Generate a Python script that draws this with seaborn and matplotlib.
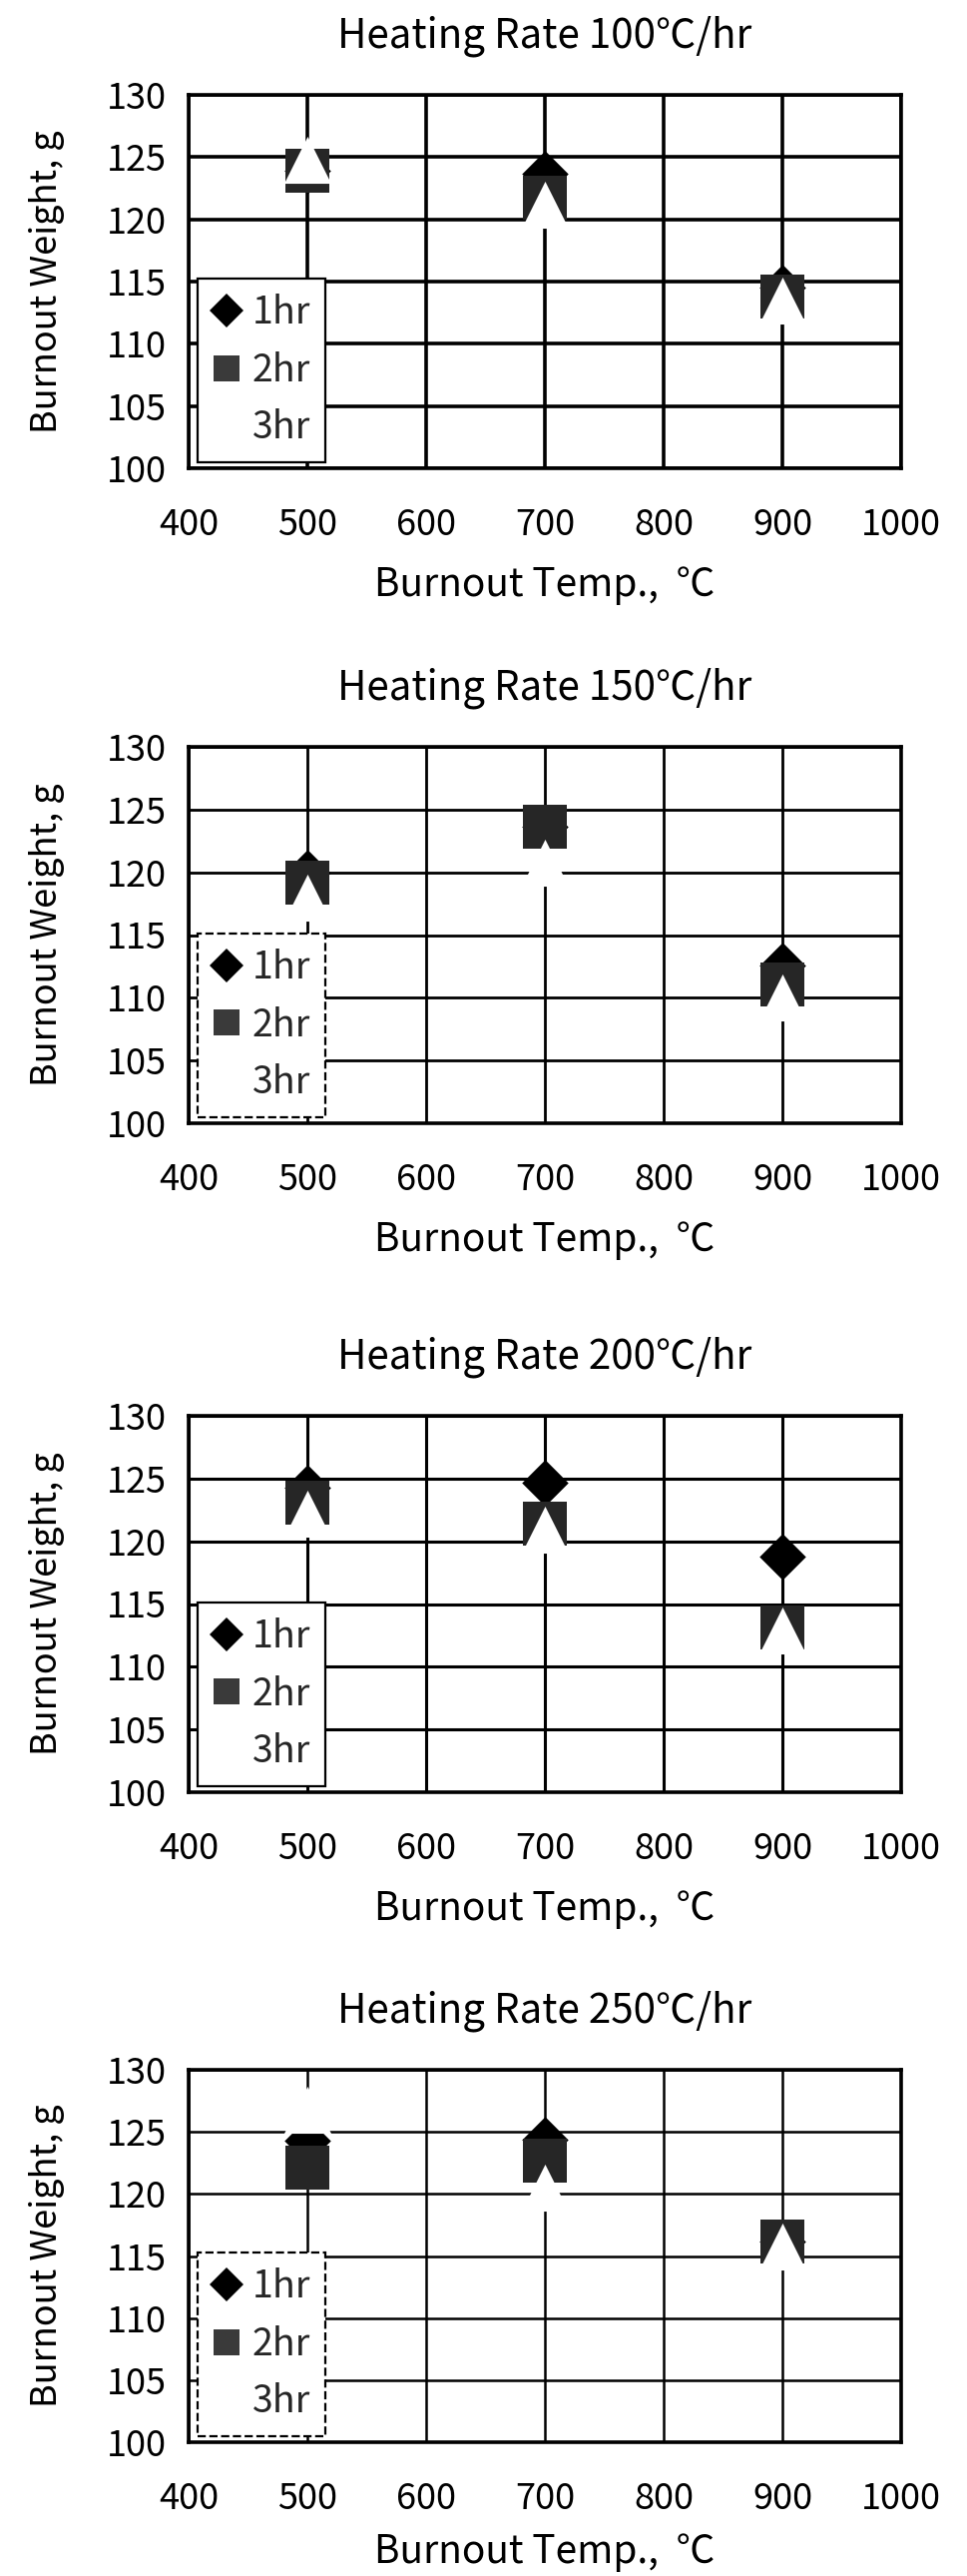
import matplotlib
matplotlib.use("Agg")
import matplotlib.pyplot as plt
from matplotlib.lines import Line2D
import seaborn as sns

sns.set_theme(style="white")
plt.rcParams["font.family"] = ["Noto Sans CJK KR", "DejaVu Sans"]

# Burnout temperatures (°C) and weights (g) for each heating rate
temps = [500, 700, 900]
rates = ["100", "150", "200", "250"]

w_100_1hr = [123.9, 123.7, 114.5]
w_100_2hr = [123.9, 121.7, 113.8]
w_100_3hr = [124.8, 121.2, 113.5]

w_150_1hr = [120.0, 123.6, 112.6]
w_150_2hr = [119.2, 123.6, 111.1]
w_150_3hr = [118.0, 120.8, 110.0]

w_200_1hr = [124.3, 124.7, 118.8]
w_200_2hr = [123.1, 121.4, 113.1]
w_200_3hr = [122.2, 120.9, 112.9]

w_250_1hr = [124.3, 124.4, 116.2]
w_250_2hr = [122.1, 122.7, 116.2]
w_250_3hr = [126.8, 120.5, 115.8]

hold_labels = ["1hr", "2hr", "3hr"]
x_ticks = [400, 500, 600, 700, 800, 900, 1000]
y_ticks = [100, 105, 110, 115, 120, 125, 130]

panels = [
    (w_100_1hr, w_100_2hr, w_100_3hr),
    (w_150_1hr, w_150_2hr, w_150_3hr),
    (w_200_1hr, w_200_2hr, w_200_3hr),
    (w_250_1hr, w_250_2hr, w_250_3hr),
]

marker_styles = [
    dict(marker="D", s=560, color="black"),
    dict(marker="s", s=960, color="#262626"),
    dict(marker="^", s=1150, color="white"),
]
legend_frame_styles = ["-", "--", "-", "--"]
grid_widths = [2.6, 2.0, 2.2, 1.8]
xlabel_pads = [16, 16, 16, 11]

W, H = 969, 2580
fig = plt.figure(figsize=(W / 100, H / 100), dpi=100)

ax_left, ax_width = 189 / W, 714 / W
ax_boxes = [(95, 469), (748, 1125), (1418, 1795), (2073, 2446)]

FS = 26

for i, (rate, series, (top, bot)) in enumerate(zip(rates, panels, ax_boxes)):
    ax = fig.add_axes([ax_left, 1 - bot / H, ax_width, (bot - top) / H])
    ax.set_facecolor("white")
    for vals, style in zip(series, marker_styles):
        sns.scatterplot(x=temps, y=vals, ax=ax, linewidth=0, zorder=3,
                        legend=False, **style)
    ax.set_xlim(400, 1000)
    ax.set_ylim(100, 130)
    ax.set_xticks(x_ticks)
    ax.set_yticks(y_ticks)
    ax.grid(True, color="black", linewidth=grid_widths[i], zorder=1)
    ax.set_axisbelow(True)
    for sp in ax.spines.values():
        sp.set_visible(True)
        sp.set_color("black")
        sp.set_linewidth(2.6)
    ax.tick_params(axis="both", length=0, labelsize=FS, colors="black")
    ax.tick_params(axis="x", pad=28)
    ax.tick_params(axis="y", pad=16)
    ax.set_title(f"Heating Rate {rate}℃/hr", fontsize=29, pad=34, color="black")
    ax.set_xlabel("Burnout Temp.,  ℃", fontsize=28, labelpad=xlabel_pads[i],
                  color="black")
    ax.set_ylabel("Burnout Weight, g", fontsize=FS, labelpad=30, color="black")

    handles = [
        Line2D([], [], linestyle="none", marker="D", markersize=17,
               markerfacecolor="black", markeredgewidth=0),
        Line2D([], [], linestyle="none", marker="s", markersize=19,
               markerfacecolor="#3a3a3a", markeredgewidth=0),
        Line2D([], [], linestyle="none", marker="^", markersize=19,
               markerfacecolor="white", markeredgewidth=0),
    ]
    leg = ax.legend(handles, hold_labels, loc="lower left",
                    bbox_to_anchor=(0.013, 0.015), borderaxespad=0,
                    fontsize=27, frameon=True, fancybox=False,
                    handlelength=0.75, handletextpad=0.3, labelspacing=0.5,
                    borderpad=0.4)
    frame = leg.get_frame()
    frame.set_edgecolor("black")
    frame.set_facecolor("white")
    frame.set_alpha(1)
    frame.set_linewidth(1.6)
    frame.set_linestyle(legend_frame_styles[i])
    leg.set_zorder(5)

fig.savefig("out.png", dpi=100, facecolor="white")
